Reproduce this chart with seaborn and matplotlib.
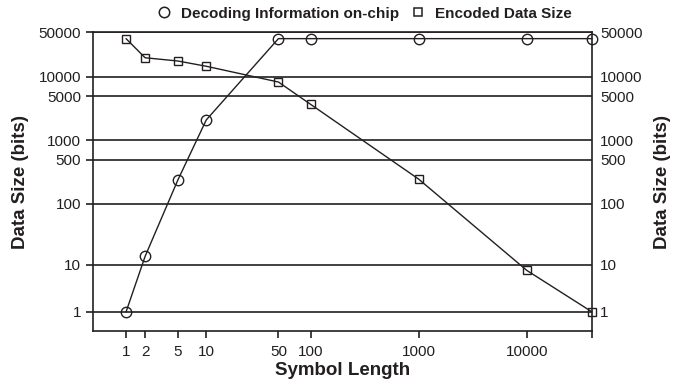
import numpy as np
import pandas as pd
import matplotlib
matplotlib.use("Agg")
import matplotlib.pyplot as plt
from matplotlib.lines import Line2D
import seaborn as sns

sns.set_theme(style="white")
plt.rcParams['font.family'] = ['Liberation Sans', 'DejaVu Sans']

symbol_length = [1, 2, 5, 10, 50, 100, 1000, 10000, 40000]
decoding_info = [1, 14, 235, 2100, 40000, 40000, 40000, 40000, 40000]
encoded_size = [40000, 20000, 17800, 14700, 8300, 3700, 246, 8, 1]
series_names = ["Decoding Information on-chip", "Encoded Data Size"]
y_ticks = [1, 10, 100, 500, 1000, 5000, 10000, 50000]
x_ticks = [1, 2, 5, 10, 50, 100, 1000, 10000, 40000]
x_ticklabels = ["1", "2", "5", "10", "50", "100", "1000", "10000", ""]

df = pd.DataFrame({
    "Symbol Length": symbol_length * 2,
    "Data Size": decoding_info + encoded_size,
    "Series": [series_names[0]] * len(symbol_length) + [series_names[1]] * len(symbol_length),
})

ink = "#231f20"

def fwd(v):
    return np.log10(np.asarray(v, dtype=float) + 1)

def inv(v):
    return 10 ** np.asarray(v, dtype=float) - 1

fig = plt.figure(figsize=(6.77, 3.89), dpi=100)
ax = fig.add_axes([0.138, 0.149, 0.8745 - 0.138, 0.9165 - 0.149])
ax.set_xscale('function', functions=(fwd, inv))
ax.set_yscale('function', functions=(fwd, inv))

sns.lineplot(data=df, x="Symbol Length", y="Data Size", hue="Series", style="Series",
             palette=[ink, ink], markers=["o", "s"], dashes=False, ax=ax,
             linewidth=1.0, markersize=7, markerfacecolor="none",
             markeredgecolor=ink, markeredgewidth=1.0, legend=False, zorder=3)
for ln in ax.lines:
    ln.set_clip_on(False)
    ln.set_markerfacecolor("none")
    if ln.get_marker() == "o":
        ln.set_markersize(7.5)
    else:
        ln.set_markersize(5.5)

ax.set_xlim(0, 40000)
ax.set_ylim(0, 50000)
ax.set_yticks(y_ticks)
ax.set_yticklabels([str(t) for t in y_ticks])
ax.set_xticks(x_ticks)
ax.set_xticklabels(x_ticklabels)
ax.minorticks_off()
for t in y_ticks:
    ax.axhline(t, color=ink, lw=1.2, zorder=1)

for s in ax.spines.values():
    s.set_color(ink)
    s.set_linewidth(1.2)

ax.tick_params(axis='both', which='major', direction='out', length=5, width=1.2,
               color=ink, labelsize=11, labelcolor=ink, bottom=True, left=True)
ax.tick_params(axis='y', pad=4)
ax.tick_params(axis='x', pad=5)

ax.set_xlabel("Symbol Length", fontsize=13.5, fontweight='bold', color=ink, labelpad=2)
ax.set_ylabel("Data Size (bits)", fontsize=13.5, fontweight='bold', color=ink, labelpad=7)

ax2 = ax.twinx()
ax2.set_yscale('function', functions=(fwd, inv))
ax2.set_ylim(0, 50000)
ax2.set_yticks(y_ticks)
ax2.set_yticklabels([str(t) for t in y_ticks])
ax2.minorticks_off()
ax2.tick_params(axis='y', length=0, pad=6, labelsize=11, labelcolor=ink, right=True)
ax2.set_ylabel("Data Size (bits)", fontsize=13.5, fontweight='bold', color=ink,
               rotation=90, labelpad=8)
for s in ax2.spines.values():
    s.set_visible(False)
ax2.set_zorder(0)
ax.set_zorder(1)
ax.patch.set_visible(False)

handles = [
    Line2D([], [], linestyle='none', marker='o', markersize=7.5, markerfacecolor='none',
           markeredgecolor=ink, markeredgewidth=1.1),
    Line2D([], [], linestyle='none', marker='s', markersize=6, markerfacecolor='none',
           markeredgecolor=ink, markeredgewidth=1.1),
]
fig.legend(handles, series_names, loc='center', bbox_to_anchor=(0.538, 0.965), ncol=2,
           frameon=False, prop={'weight': 'bold', 'size': 11}, handlelength=1.0,
           handletextpad=0.6, columnspacing=0.75, labelcolor=ink)

fig.savefig("out.png", dpi=100)
